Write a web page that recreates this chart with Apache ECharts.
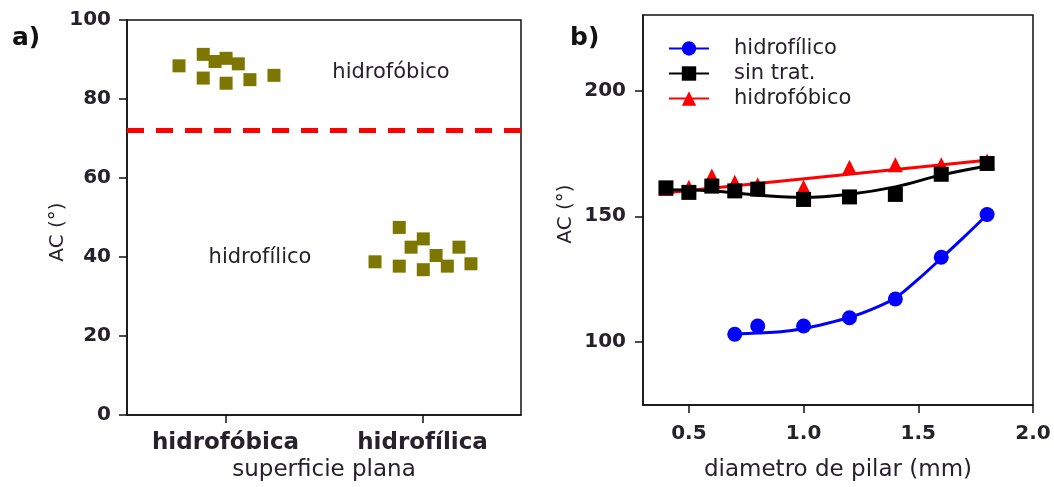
<!DOCTYPE html>
<html>
<head>
<meta charset="utf-8">
<script src="https://cdn.jsdelivr.net/npm/echarts@6/dist/echarts.min.js"></script>
<style>html,body{margin:0;padding:0;background:#fff}#c{width:1054px;height:487px}</style>
</head>
<body>
<div id="c"></div>
<script>
// ---------- panel a) ----------
const surfaceCategories = ['hidrofóbica', 'hidrofílica'];
const phobicX = [0.264, 0.387, 0.447, 0.503, 0.565, 0.387, 0.503, 0.624, 0.746];
const phobicY = [88.4, 91.3, 89.5, 90.3, 88.9, 85.3, 84.0, 84.9, 86.0];
const philicX = [1.382, 1.504, 1.442, 1.685, 1.569, 1.259, 1.382, 1.504, 1.626, 1.746];
const philicY = [47.5, 44.6, 42.5, 42.5, 40.4, 38.8, 37.7, 36.8, 37.7, 38.3];
const thresholdAC = 72;
const annotText = ['hidrofóbico', 'hidrofílico'];
const annotX = [1.34, 0.675];
const annotY = [86.6, 39.9];

// ---------- panel b) ----------
const seriesNames = ['hidrofílico', 'sin trat.', 'hidrofóbico'];
const philDiam = [0.7, 0.8, 1.0, 1.2, 1.4, 1.6, 1.8];
const philAC = [103.1, 106.4, 106.4, 109.7, 117.1, 133.7, 150.7];
const untrDiam = [0.4, 0.5, 0.6, 0.7, 0.8, 1.0, 1.2, 1.4, 1.6, 1.8];
const untrAC = [161.3, 159.5, 162.0, 160.1, 160.8, 156.7, 157.7, 158.7, 166.7, 171.0];
const phobDiam = [0.4, 0.5, 0.6, 0.7, 0.8, 1.0, 1.2, 1.4, 1.6, 1.8];
const phobAC = [161.0, 161.5, 166.0, 163.5, 162.5, 161.5, 169.5, 170.5, 170.5, 172.0];
// fitted curves
const philFitDiam = [0.7, 0.8, 0.9, 1.0, 1.1, 1.2, 1.3, 1.4, 1.5, 1.6, 1.7, 1.8];
const philFitAC = [103.2, 103.6, 104.1, 105.4, 107.4, 109.8, 113.1, 117.5, 125.0, 133.3, 141.8, 150.6];
const untrFitDiam = [0.37, 0.6, 0.8, 1.0, 1.2, 1.4, 1.6, 1.8];
const untrFitAC = [160.5, 160.1, 158.4, 157.5, 158.8, 161.7, 166.4, 170.0];
const phobFitDiam = [0.37, 1.83];
const phobFitAC = [159.1, 172.6];
const rightXTicks = [0.5, 1.0, 1.5, 2.0];
const rightYTicks = [100, 150, 200];

const zip = (xs, ys) => xs.map((x, i) => [x, ys[i]]);
const FONT = 'DejaVu Sans';
const TXT = '#26222c';

const chart = echarts.init(document.getElementById('c'), null, {renderer: 'canvas'});

const axisLineStyle = {lineStyle: {color: '#111', width: 1.5}};
const tickStyle = {show: true, length: 8, inside: false, lineStyle: {color: '#111', width: 1.5}};

chart.setOption({
  animation: false,
  backgroundColor: '#fff',
  textStyle: {fontFamily: FONT},
  grid: [
    {left: 127, top: 20, width: 394, height: 396, show: true, borderColor: '#111', borderWidth: 1.5, backgroundColor: 'transparent'},
    {left: 643, top: 15, width: 390, height: 390, show: true, borderColor: '#111', borderWidth: 1.5, backgroundColor: 'transparent'}
  ],
  xAxis: [
    {
      gridIndex: 0, type: 'value', min: 0, max: 2,
      axisLine: axisLineStyle,
      axisTick: Object.assign({}, tickStyle, {customValues: [0.5, 1.5]}),
      axisLabel: {customValues: [0.5, 1.5], formatter: v => surfaceCategories[Math.floor(v)],
        fontFamily: FONT, fontWeight: 'bold', fontSize: 23, color: TXT, margin: 16},
      splitLine: {show: false},
      name: 'superficie plana', nameLocation: 'middle', nameGap: 43,
      nameTextStyle: {fontFamily: FONT, fontSize: 23, color: TXT}
    },
    {
      gridIndex: 1, type: 'value', min: 0.3, max: 2.0,
      axisLine: axisLineStyle,
      axisTick: Object.assign({}, tickStyle, {customValues: rightXTicks}),
      axisLabel: {customValues: rightXTicks, formatter: v => v.toFixed(1),
        fontFamily: FONT, fontWeight: 'bold', fontSize: 20, color: TXT, margin: 19},
      splitLine: {show: false},
      name: 'diametro de pilar (mm)', nameLocation: 'middle', nameGap: 54,
      nameTextStyle: {fontFamily: FONT, fontSize: 23, color: TXT}
    }
  ],
  yAxis: [
    {
      gridIndex: 0, type: 'value', min: 0, max: 100, interval: 20,
      axisLine: Object.assign({show: true}, axisLineStyle),
      axisTick: tickStyle,
      axisLabel: {fontFamily: FONT, fontWeight: 'bold', fontSize: 20, color: TXT, margin: 16},
      splitLine: {show: false}
    },
    {
      gridIndex: 1, type: 'value', min: 75, max: 230,
      axisLine: Object.assign({show: true}, axisLineStyle),
      axisTick: Object.assign({}, tickStyle, {customValues: rightYTicks}),
      axisLabel: {customValues: rightYTicks, fontFamily: FONT, fontWeight: 'bold', fontSize: 20, color: TXT, margin: 17},
      splitLine: {show: false}
    }
  ],
  legend: {
    orient: 'vertical', left: 663, top: 33,
    data: seriesNames,
    itemWidth: 40, itemHeight: 18, itemGap: 4,
    textStyle: {fontFamily: FONT, fontSize: 21, color: TXT, padding: [0, 0, 0, 20]},
    selectedMode: false
  },
  graphic: [
    {type: 'text', left: 12, top: 26, style: {text: 'a)', font: 'bold 25px "DejaVu Sans"', fill: '#111'}},
    {type: 'text', left: 570, top: 26, style: {text: 'b)', font: 'bold 25px "DejaVu Sans"', fill: '#111'}},
    {type: 'text', x: 58, y: 232, rotation: Math.PI / 2,
      style: {text: 'AC (°)', font: '20px "DejaVu Sans"', fill: TXT, align: 'center', verticalAlign: 'middle'}},
    {type: 'text', x: 566, y: 214, rotation: Math.PI / 2,
      style: {text: 'AC (°)', font: '20px "DejaVu Sans"', fill: TXT, align: 'center', verticalAlign: 'middle'}}
  ],
  series: [
    // panel a
    {
      type: 'scatter', xAxisIndex: 0, yAxisIndex: 0, symbol: 'rect', symbolSize: 13,
      itemStyle: {color: '#7d7600', opacity: 1}, data: zip(phobicX, phobicY).concat(zip(philicX, philicY)),
      markLine: {
        silent: true, symbol: 'none', label: {show: false},
        lineStyle: {color: '#ff0000', width: 5, type: [17, 12], opacity: 1},
        data: [{yAxis: thresholdAC}]
      }
    },
    {
      type: 'scatter', xAxisIndex: 0, yAxisIndex: 0, symbolSize: 1,
      itemStyle: {color: 'transparent', opacity: 1},
      label: {show: true, position: 'inside', formatter: p => annotText[p.dataIndex],
        fontFamily: FONT, fontSize: 21, color: TXT},
      data: zip(annotX, annotY)
    },
    // panel b — fitted lines
    {
      name: 'hidrofóbico', type: 'line', xAxisIndex: 1, yAxisIndex: 1,
      symbol: 'triangle', showSymbol: false, color: '#ff0000',
      lineStyle: {color: '#ff0000', width: 3}, data: zip(phobFitDiam, phobFitAC), z: 2
    },
    {
      name: 'sin trat.', type: 'line', xAxisIndex: 1, yAxisIndex: 1, smooth: 0.4,
      symbol: 'rect', showSymbol: false, color: '#000',
      lineStyle: {color: '#000', width: 3}, data: zip(untrFitDiam, untrFitAC), z: 3
    },
    {
      name: 'hidrofílico', type: 'line', xAxisIndex: 1, yAxisIndex: 1, smooth: 0.3,
      symbol: 'circle', showSymbol: false, color: '#0000ff',
      lineStyle: {color: '#0000ff', width: 3}, data: zip(philFitDiam, philFitAC), z: 3
    },
    // panel b — measured points
    {
      name: 'hidrofóbico', type: 'scatter', xAxisIndex: 1, yAxisIndex: 1,
      symbol: 'triangle', symbolSize: 15, itemStyle: {color: '#ff0000', opacity: 1},
      data: zip(phobDiam, phobAC), z: 4
    },
    {
      name: 'sin trat.', type: 'scatter', xAxisIndex: 1, yAxisIndex: 1,
      symbol: 'rect', symbolSize: 15, itemStyle: {color: '#000', opacity: 1},
      data: zip(untrDiam, untrAC), z: 5
    },
    {
      name: 'hidrofílico', type: 'scatter', xAxisIndex: 1, yAxisIndex: 1,
      symbol: 'circle', symbolSize: 15, itemStyle: {color: '#0000ff', opacity: 1},
      data: zip(philDiam, philAC), z: 5
    }
  ]
});
</script>
</body>
</html>
